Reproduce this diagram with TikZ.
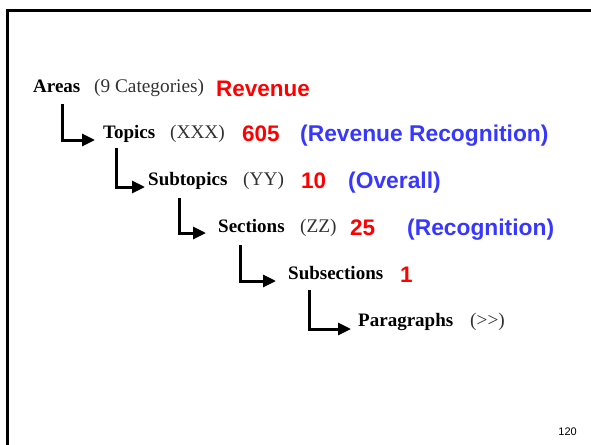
\documentclass[tikz,border=0pt]{standalone}
\usepackage{fontspec}
\setmainfont{Liberation Serif}
\newfontfamily\arial{Liberation Sans}
\usetikzlibrary{arrows.meta}
\definecolor{hdred}{RGB}{255,0,0}
\definecolor{hdblue}{RGB}{55,55,255}
\definecolor{paren}{RGB}{50,50,50}
\begin{document}
\begin{tikzpicture}[x=1pt,y=-1pt,
  level/.style={anchor=base west,inner sep=0pt,font=\fontsize{19}{20}\selectfont\bfseries},
  note/.style={anchor=base west,inner sep=0pt,text=paren,font=\fontsize{19.3}{20}\selectfont},
  count/.style={anchor=base west,inner sep=0pt,text=hdred,font=\arial\fontsize{22.5}{24}\selectfont\bfseries},
  gloss/.style={anchor=base west,inner sep=0pt,text=hdblue,font=\arial\fontsize{22.8}{24}\selectfont\bfseries},
  elbow/.style={line width=3pt,-{Triangle[length=13pt,width=12pt]}}]
\useasboundingbox (0,0) rectangle (591,444);
\begin{scope}
  \clip (0,0) rectangle (591,444);
  \draw[line width=2.6pt] (7.4,10.6) rectangle (620,470);
\end{scope}

% hierarchy levels
\node[level] (areas) at (33,92) {Areas};
\node[note]  (areasn) at (94,92) {(9 Categories)};
\node[count] (areasc) at (216,96) {Revenue};

\node[level] (topics) at (103,138) {Topics};
\node[note]  (topicsn) at (170,138) {(XXX)};
\node[count] (topicsc) at (242,141) {605};
\node[gloss] (topicsg) at (300,141) {(Revenue Recognition)};

\node[level] (subtopics) at (148,185) {Subtopics};
\node[note]  (subtopicsn) at (243,185) {(YY)};
\node[count] (subtopicsc) at (301,188) {10};
\node[gloss] (subtopicsg) at (348,188) {(Overall)};

\node[level] (sections) at (218,232) {Sections};
\node[note]  (sectionsn) at (300,232) {(ZZ)};
\node[count] (sectionsc) at (350,235) {25};
\node[gloss] (sectionsg) at (407,235) {(Recognition)};

\node[level] (subsections) at (288,279) {Subsections};
\node[count] (subsectionsc) at (400,282) {1};

\node[level] (paragraphs) at (358,326) {Paragraphs};
\node[note]  (paragraphsn) at (470,326) {(>{}>)};

% page number
\node[anchor=base east,inner sep=0pt,font=\arial\fontsize{11}{12}\selectfont] (pagenum) at (577,435) {120};

% elbow connectors between levels
\draw[elbow] ([xshift=29pt,yshift=-12pt]areas.base west) |- ([xshift=-8pt,yshift=-2pt]topics.base west);
\draw[elbow] ([xshift=13pt,yshift=-10pt]topics.base west) |- ([xshift=-3pt,yshift=-2pt]subtopics.base west);
\draw[elbow] ([xshift=31pt,yshift=-13pt]subtopics.base west) |- ([xshift=-12pt,yshift=-1pt]sections.base west);
\draw[elbow] ([xshift=22pt,yshift=-13pt]sections.base west) |- ([xshift=-12pt,yshift=-2pt]subsections.base west);
\draw[elbow] ([xshift=21pt,yshift=-11pt]subsections.base west) |- ([xshift=-7pt,yshift=-3pt]paragraphs.base west);
\end{tikzpicture}
\end{document}
